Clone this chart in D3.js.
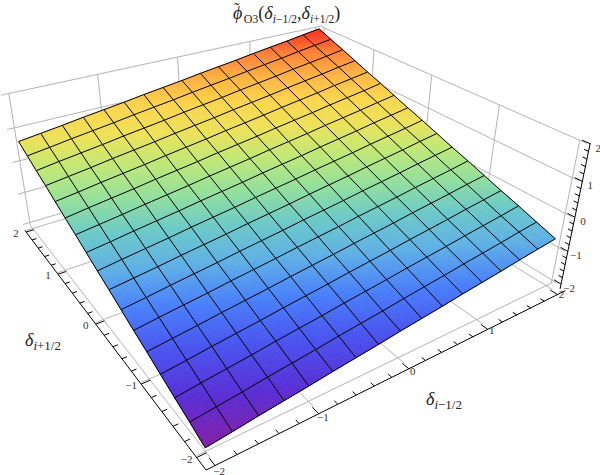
<html>
<head>
<style>
body { margin: 0; background: #fff; }
text { font-family: "Liberation Serif", serif; }
</style>
</head>
<body>
<div id="chart"></div>
<script src="https://d3js.org/d3.v7.min.js"></script>
<script>

// mesh positions on both horizontal axes
var gridX = [-2,-1.75,-1.5,-1.25,-1,-0.75,-0.5,-0.25,0,0.25,0.5,0.75,1,1.25,1.5,1.75,2]
var gridY = [-2,-1.75,-1.5,-1.25,-1,-0.75,-0.5,-0.25,0,0.25,0.5,0.75,1,1.25,1.5,1.75,2]

// surface heights, one row per gridY, one column per gridX
var heights = [
[-2.00,-1.92,-1.83,-1.75,-1.67,-1.58,-1.50,-1.42,-1.33,-1.25,-1.17,-1.08,-1.00,-0.92,-0.83,-0.75,-0.67],
[-1.83,-1.75,-1.67,-1.58,-1.50,-1.42,-1.33,-1.25,-1.17,-1.08,-1.00,-0.92,-0.83,-0.75,-0.67,-0.58,-0.50],
[-1.67,-1.58,-1.50,-1.42,-1.33,-1.25,-1.17,-1.08,-1.00,-0.92,-0.83,-0.75,-0.67,-0.58,-0.50,-0.42,-0.33],
[-1.50,-1.42,-1.33,-1.25,-1.17,-1.08,-1.00,-0.92,-0.83,-0.75,-0.67,-0.58,-0.50,-0.42,-0.33,-0.25,-0.17],
[-1.33,-1.25,-1.17,-1.08,-1.00,-0.92,-0.83,-0.75,-0.67,-0.58,-0.50,-0.42,-0.33,-0.25,-0.17,-0.08,0.00],
[-1.17,-1.08,-1.00,-0.92,-0.83,-0.75,-0.67,-0.58,-0.50,-0.42,-0.33,-0.25,-0.17,-0.08,0.00,0.08,0.17],
[-1.00,-0.92,-0.83,-0.75,-0.67,-0.58,-0.50,-0.42,-0.33,-0.25,-0.17,-0.08,0.00,0.08,0.17,0.25,0.33],
[-0.83,-0.75,-0.67,-0.58,-0.50,-0.42,-0.33,-0.25,-0.17,-0.08,0.00,0.08,0.17,0.25,0.33,0.42,0.50],
[-0.67,-0.58,-0.50,-0.42,-0.33,-0.25,-0.17,-0.08,0.00,0.08,0.17,0.25,0.33,0.42,0.50,0.58,0.67],
[-0.50,-0.42,-0.33,-0.25,-0.17,-0.08,0.00,0.08,0.17,0.25,0.33,0.42,0.50,0.58,0.67,0.75,0.83],
[-0.33,-0.25,-0.17,-0.08,0.00,0.08,0.17,0.25,0.33,0.42,0.50,0.58,0.67,0.75,0.83,0.92,1.00],
[-0.17,-0.08,0.00,0.08,0.17,0.25,0.33,0.42,0.50,0.58,0.67,0.75,0.83,0.92,1.00,1.08,1.17],
[0.00,0.08,0.17,0.25,0.33,0.42,0.50,0.58,0.67,0.75,0.83,0.92,1.00,1.08,1.17,1.25,1.33],
[0.17,0.25,0.33,0.42,0.50,0.58,0.67,0.75,0.83,0.92,1.00,1.08,1.17,1.25,1.33,1.42,1.50],
[0.33,0.42,0.50,0.58,0.67,0.75,0.83,0.92,1.00,1.08,1.17,1.25,1.33,1.42,1.50,1.58,1.67],
[0.50,0.58,0.67,0.75,0.83,0.92,1.00,1.08,1.17,1.25,1.33,1.42,1.50,1.58,1.67,1.75,1.83],
[0.67,0.75,0.83,0.92,1.00,1.08,1.17,1.25,1.33,1.42,1.50,1.58,1.67,1.75,1.83,1.92,2.00]
]

var majorTicks = [-2,-1,0,1,2]
var minorTicks = [-1.8,-1.6,-1.4,-1.2,-0.8,-0.6,-0.4,-0.2,0.2,0.4,0.6,0.8,1.2,1.4,1.6,1.8]
var tickLabels = ["\u22122","\u22121","0","1","2"]

var colorStops = [-2,-1.67,-1.33,-1,-0.67,-0.33,0,0.33,0.67,1,1.33,1.67,2]
var colorValues = ["#8420a6","#5a2fd6","#4a55f0","#4a80fc","#5fb0e6","#6ccac8","#94e09c","#bfe878","#ece25a","#fbd64e","#ffb443","#ff7f38","#ff2c22"]

var color = d3.scaleLinear().domain(colorStops).range(colorValues)

var width = 600, height = 475

var xMin = -2.08, xMax = 2.08, yMin = -2.08, yMax = 2.08, zMin = -2.1, zMax = 2

// camera: fit a projective matrix to spots where the box grid lands on the page
var calib = [
  [-2,yMax,zMax,8.3,93],[-2,yMax,zMin,30,225],
  [2,yMax,zMax,318,27.5],[xMax,2,zMax,324,27.5],
  [xMax,-2,zMax,580,140],[xMax,-2,zMin,551.7,283],
  [-2,-2,zMin,206,453],
  [-2,-2,-2,205,447],[-2,-2,-2,205,447],
  [2,2,2,318,29],[2,2,2,318,29],
  [-2,2,0.67,19,142],[-2,2,0.67,19,142],
  [2,-2,-0.67,555,239],[2,-2,-0.67,555,239]
]

function fitCamera(pts){
    var n = 11, A = [], b = []
    for(var i=0;i<n;i++){ A.push(d3.range(n).map(function(){return 0})); b.push(0) }
    function add(row, v){
        for(var i=0;i<n;i++){
            for(var j=0;j<n;j++) A[i][j] += row[i]*row[j]
            b[i] += row[i]*v
        }
    }
    pts.forEach(function(p){
        var X=p[0], Y=p[1], Z=p[2], u=p[3]/100, v=p[4]/100
        add([X,Y,Z,1,0,0,0,0,-u*X,-u*Y,-u*Z], u)
        add([0,0,0,0,X,Y,Z,1,-v*X,-v*Y,-v*Z], v)
    })
    for(var c=0;c<n;c++){
        var piv = c
        for(var r=c+1;r<n;r++) if(Math.abs(A[r][c])>Math.abs(A[piv][c])) piv = r
        var t=A[c]; A[c]=A[piv]; A[piv]=t
        t=b[c]; b[c]=b[piv]; b[piv]=t
        for(var r=c+1;r<n;r++){
            var f = A[r][c]/A[c][c]
            for(var k=c;k<n;k++) A[r][k] -= f*A[c][k]
            b[r] -= f*b[c]
        }
    }
    var m = new Array(n)
    for(var i=n-1;i>=0;i--){
        var s = b[i]
        for(var k=i+1;k<n;k++) s -= A[i][k]*m[k]
        m[i] = s/A[i][i]
    }
    return m
}

var cam = fitCamera(calib)

function project(x,y,z){
    var w = cam[8]*x + cam[9]*y + cam[10]*z + 1
    return [100*(cam[0]*x+cam[1]*y+cam[2]*z+cam[3])/w, 100*(cam[4]*x+cam[5]*y+cam[6]*z+cam[7])/w]
}

var line3 = d3.line().x(d => d[0]).y(d => d[1])

var svg = d3.select("#chart")
  .append("svg")
  .attr("width", width)
  .attr("height", height)
  .style("display", "block")

// grid lines on the three back faces
var gridSegs = []
majorTicks.forEach(function(t){
    gridSegs.push([[t,yMax,zMin],[t,yMax,zMax]])
    gridSegs.push([[xMin,yMax,t],[xMax,yMax,t]])
    gridSegs.push([[xMax,t,zMin],[xMax,t,zMax]])
    gridSegs.push([[xMax,yMin,t],[xMax,yMax,t]])
    gridSegs.push([[t,yMin,zMin],[t,yMax,zMin]])
    gridSegs.push([[xMin,t,zMin],[xMax,t,zMin]])
})

svg.append("g").selectAll("path")
  .data(gridSegs)
  .enter().append("path")
  .attr("d", d => line3(d.map(p => project(p[0],p[1],p[2]))))
  .attr("fill", "none")
  .attr("stroke", "#aaa")
  .attr("stroke-width", 0.9)

// surface, every mesh cell split up so the colour runs smoothly with height
var sub = 6, patches = []
for(var j=0;j<gridY.length-1;j++){
    for(var i=0;i<gridX.length-1;i++){
        for(var a=0;a<sub;a++){
            for(var b=0;b<sub;b++){
                patches.push({i:i,j:j,u0:a/sub,u1:(a+1)/sub,v0:b/sub,v1:(b+1)/sub})
            }
        }
    }
}

function surf(i,j,u,v){
    var z = (1-u)*(1-v)*heights[j][i] + u*(1-v)*heights[j][i+1] + (1-u)*v*heights[j+1][i] + u*v*heights[j+1][i+1]
    return {x:gridX[i]+u*(gridX[i+1]-gridX[i]), y:gridY[j]+v*(gridY[j+1]-gridY[j]), z:z}
}
function surfPt(i,j,u,v){
    var s = surf(i,j,u,v)
    return project(s.x,s.y,s.z)
}

svg.append("g").selectAll("path")
  .data(patches)
  .enter().append("path")
  .attr("d", function(d){
      return line3([surfPt(d.i,d.j,d.u0,d.v0),surfPt(d.i,d.j,d.u1,d.v0),surfPt(d.i,d.j,d.u1,d.v1),surfPt(d.i,d.j,d.u0,d.v1)]) + "Z"
  })
  .attr("fill", d => color(surf(d.i,d.j,(d.u0+d.u1)/2,(d.v0+d.v1)/2).z))
  .attr("stroke", d => color(surf(d.i,d.j,(d.u0+d.u1)/2,(d.v0+d.v1)/2).z))
  .attr("stroke-width", 0.9)

// mesh
var mesh = []
gridY.forEach(function(y,j){ mesh.push(gridX.map((x,i) => project(x,y,heights[j][i]))) })
gridX.forEach(function(x,i){ mesh.push(gridY.map((y,j) => project(x,y,heights[j][i]))) })

svg.append("g").selectAll("path")
  .data(mesh)
  .enter().append("path")
  .attr("d", line3)
  .attr("fill", "none")
  .attr("stroke", "#000")
  .attr("stroke-width", 1)

// axes
var axX = {y:-2.15, z:-2.15}, axY = {x:-2.08, z:-2.15}, axZ = {x:2.1, y:-2.1}
var tickMaj = 0.09, tickMin = 0.05

var axes = svg.append("g").attr("stroke", "#000").attr("fill", "none")

function axisLine(a, b){
    axes.append("path")
      .attr("d", line3([project(a[0],a[1],a[2]), project(b[0],b[1],b[2])]))
      .attr("stroke-width", 1)
}
axisLine([-2.08,axX.y,axX.z],[2.12,axX.y,axX.z])
axisLine([axY.x,-2.15,axY.z],[axY.x,2.04,axY.z])
axisLine([axZ.x,axZ.y,-2.15],[axZ.x,axZ.y,2.02])

function tick(t, len){
    axisLine([t,axX.y,axX.z],[t,axX.y+len,axX.z])
    axisLine([axY.x,t,axY.z],[axY.x+len,t,axY.z])
    axisLine([axZ.x,axZ.y,t],[axZ.x,axZ.y+len,t])
}
majorTicks.forEach(function(t){ tick(t,tickMaj) })
minorTicks.forEach(function(t){ tick(t,tickMin) })

// tick labels
var labels = svg.append("g")
  .attr("font-size", 11)
  .attr("fill", "#333")
  .attr("text-anchor", "middle")

majorTicks.forEach(function(t,i){
    var px = project(t,axX.y,axX.z), py = project(axY.x,t,axY.z), pz = project(axZ.x,axZ.y,t)
    labels.append("text").attr("x",px[0]+4).attr("y",px[1]+6-1.5*t).text(tickLabels[i])
    labels.append("text").attr("x",py[0]-10).attr("y",py[1]+5).text(tickLabels[i])
    labels.append("text").attr("x",pz[0]+8).attr("y",pz[1]+8).text(tickLabels[i])
})

// titles
function delta(sel, sign, size){
    sel.append("tspan").attr("font-style","italic").text("\u03b4")
    sel.append("tspan").attr("font-size",size).attr("font-style","italic").attr("dy",4).text("i")
    sel.append("tspan").attr("font-size",size).attr("dy",0).text(sign+"1/2")
}

var labY = svg.append("text").attr("x",25).attr("y",346).attr("font-size",18).attr("fill","#222")
delta(labY,"+",13)

var labX = svg.append("text").attr("x",426).attr("y",405).attr("font-size",18).attr("fill","#222")
delta(labX,"\u2212",13)

var title = svg.append("text").attr("x",233).attr("y",19).attr("font-size",18).attr("fill","#222")
title.append("tspan").attr("font-style","italic").text("\u03d5")
title.append("tspan").attr("font-size",16).attr("dx",-8).attr("dy",-5).text("\u02dc")
title.append("tspan").attr("font-size",12).attr("dx",4).attr("dy",9).text("O3")
title.append("tspan").attr("dy",-4).text("(")
delta(title,"\u2212",11.5)
title.append("tspan").attr("dy",-4).text(",")
delta(title,"+",11.5)
title.append("tspan").attr("dy",-4).text(")")

</script>
</body>
</html>
